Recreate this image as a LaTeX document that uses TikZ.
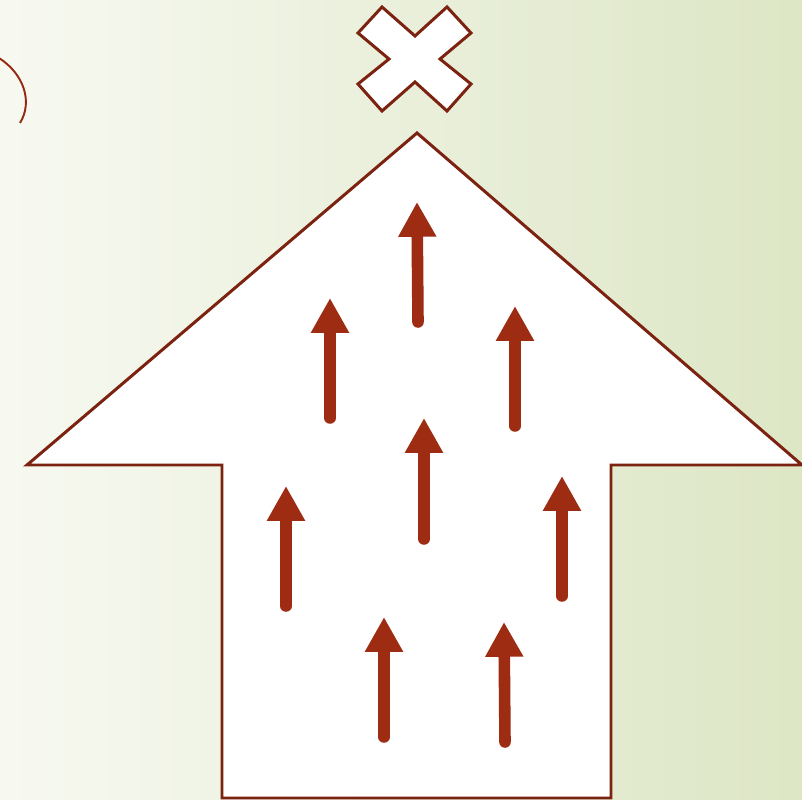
\documentclass[tikz,border=0pt]{standalone}
\usepackage{tikz}
\usetikzlibrary{arrows.meta}
\definecolor{rimred}{HTML}{7B2210}
\definecolor{flowred}{HTML}{9E2C12}
\definecolor{bgleft}{HTML}{F7F9F1}
\definecolor{bgright}{HTML}{DDE6C5}

\begin{document}
\begin{tikzpicture}[
  x=0.02cm, y=-0.02cm,
  outline/.style={draw=rimred, line width=1.7pt, fill=white, line join=miter},
  flow/.style={draw=flowred, line width=6.6pt, line cap=round,
    -{Triangle[width=20.4pt, length=19.8pt]}}
]

% Background
\useasboundingbox (0,0) rectangle (802,800);
\shade[left color=bgleft, right color=bgright] (0,0) rectangle (802,800);

% Small arc at the top left
\draw[flowred!95!black, line width=1.1pt] (-1,58) .. controls (24,74) and (33,102) .. (20,123);

% Cross above the tip
\draw[outline] (382,7) -- (415,36) -- (447,7) -- (471,33) -- (440,59) -- (471,84)
  -- (447,111) -- (415,82) -- (382,111) -- (358,84) -- (389,59) -- (358,33) -- cycle;

% Big up arrow
\draw[outline] (417,133) -- (802,465) -- (611,465) -- (611,798) -- (222,798)
  -- (222,465) -- (27,465) -- cycle;

% Small arrows inside (tail x, tail y, tip x, tip y)
\foreach \tx/\ty/\hx/\hy in {418/322/417/202, 330/418/330/298, 515/426/515/306,
  424/539/424/418, 286/606/286/486, 562/596/562/476, 384/737/384/617, 505/742/504/622}
  \draw[flow] (\tx,\ty) -- (\hx,\hy);

\end{tikzpicture}
\end{document}
